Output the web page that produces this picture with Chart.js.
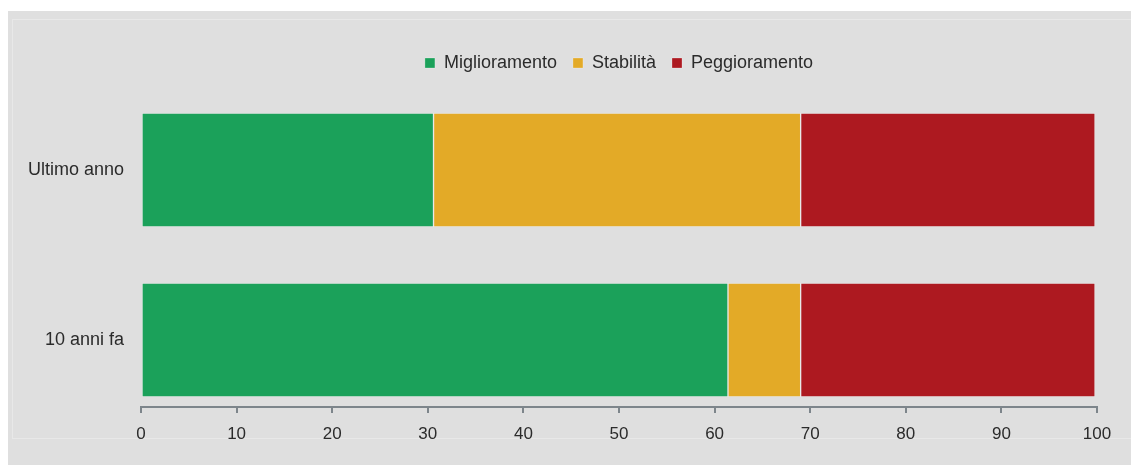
<!DOCTYPE html>
<html>
<head>
<meta charset="utf-8">
<script src="https://cdn.jsdelivr.net/npm/chart.js@4.4.1/dist/chart.umd.min.js"></script>
<style>
  body { margin: 0; background: #fff; }
  #panel { position: absolute; left: 8px; top: 11px; width: 1123px; height: 454px; background: #dfdfdf; }
  #frame { position: absolute; left: 4px; top: 8px; width: 1130px; height: 418px; border: 1px solid #e8e8e8; }
  #chart { position: absolute; left: 0; top: 0; }
</style>
</head>
<body>
<div id="panel">
  <div id="frame"></div>
  <canvas id="chart" width="1123" height="454"></canvas>
</div>
<script>
const categories = ['Ultimo anno', '10 anni fa']
const miglioramento = [30.6, 61.4]
const stabilita = [38.4, 7.6]
const peggioramento = [30.8, 30.8]
const xTicks = [0, 10, 20, 30, 40, 50, 60, 70, 80, 90, 100]

const textColor = '#2b2b2b'
const axisColor = '#7d858b'
const family = 'Liberation Sans, Arial, sans-serif'

// bars sit on a numeric index axis so the category bands can be placed like the original
function points(values) {
    return values.map((v, i) => ({ x: v, y: i }))
}

const CHART = document.getElementById('chart')
let barChart = new Chart(CHART, {
    type: 'bar',
    data: {
        datasets: [
            { label: 'Miglioramento', data: points(miglioramento), backgroundColor: '#1ba15a' },
            { label: 'Stabilità', data: points(stabilita), backgroundColor: '#e3aa27' },
            { label: 'Peggioramento', data: points(peggioramento), backgroundColor: '#ad1920' }
        ].map(d => Object.assign(d, {
            barThickness: 114,
            borderWidth: 1,
            borderColor: 'rgba(255,255,255,0.25)',
            borderSkipped: false
        }))
    },
    options: {
        indexAxis: 'y',
        responsive: false,
        animation: false,
        layout: { padding: { top: 27, right: 34, bottom: 0, left: 0 } },
        plugins: {
            legend: {
                position: 'top',
                fullSize: false,
                labels: {
                    color: textColor,
                    font: { family: family, size: 18 },
                    boxWidth: 10,
                    boxHeight: 10,
                    padding: 16
                }
            },
            tooltip: { enabled: false }
        },
        scales: {
            x: {
                type: 'linear',
                stacked: true,
                min: 0,
                max: 100,
                afterBuildTicks: s => { s.ticks = xTicks.map(v => ({ value: v })) },
                afterFit: s => { s.height = 58 },
                grid: { drawOnChartArea: false, color: axisColor, tickLength: 6, lineWidth: 2 },
                border: { display: true, color: axisColor, width: 2 },
                ticks: { color: textColor, font: { family: family, size: 17 }, padding: 11 }
            },
            y: {
                type: 'linear',
                stacked: true,
                reverse: true,
                offset: false,
                min: -0.5176,
                max: 1.394,
                afterBuildTicks: s => { s.ticks = categories.map((c, i) => ({ value: i })) },
                afterFit: s => { s.width = 133 },
                grid: { display: false, offset: false },
                border: { display: false },
                ticks: {
                    color: textColor,
                    font: { family: family, size: 18 },
                    padding: 9,
                    callback: v => categories[v] || ''
                }
            }
        }
    }
})
</script>
</body>
</html>
